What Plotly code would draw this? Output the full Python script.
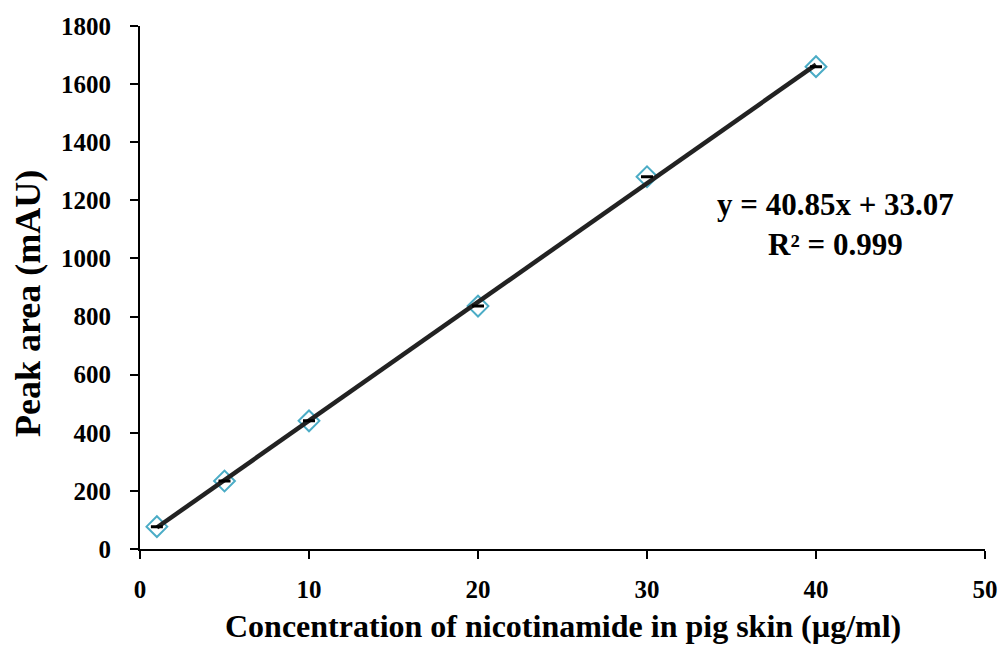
import plotly.graph_objects as go

conc = [1, 5, 10, 20, 30, 40]
peak_area = [77, 234, 441, 836, 1281, 1660]
slope = 40.85
intercept = 33.07
r2 = 0.999
x_ticks = [0, 10, 20, 30, 40, 50]
y_ticks = [0, 200, 400, 600, 800, 1000, 1200, 1400, 1600, 1800]

FONT = "Liberation Serif"
L, R, T, B = 140, 985, 26, 549

fig = go.Figure()
fig.add_trace(go.Scatter(
    x=conc, y=peak_area, mode="markers",
    marker=dict(symbol="diamond-open", size=16, color="#4BACC6", line=dict(width=2, color="#4BACC6")),
    showlegend=False,
))
trend_x = [conc[0], conc[-1]]
trend_y = [slope * v + intercept for v in trend_x]
fig.add_trace(go.Scatter(
    x=trend_x, y=trend_y, mode="lines",
    line=dict(color="#222222", width=4.5),
    showlegend=False,
))
fig.add_trace(go.Scatter(
    x=conc, y=peak_area, mode="markers",
    marker=dict(size=1, color="rgba(0,0,0,0)"),
    error_y=dict(type="data", array=[0] * len(conc), width=6, thickness=3, color="black"),
    showlegend=False, hoverinfo="skip",
))

fig.add_annotation(
    x=(835 - L) / (R - L), y=(B - 225) / (B - T), xref="paper", yref="paper",
    xanchor="center", yanchor="middle",
    text=f"<b>y = {slope:.2f}x + {intercept:.2f}</b><br><b>R² = {r2:.3f}</b>",
    showarrow=False, align="center",
    font=dict(family=FONT, size=31, color="black"),
)
fig.add_annotation(
    x=(28 - L) / (R - L), y=(B - 304) / (B - T), xref="paper", yref="paper",
    xanchor="center", yanchor="middle", textangle=-90,
    text="<b>Peak area (mAU)</b>", showarrow=False,
    font=dict(family=FONT, size=36, color="black"),
)
fig.add_annotation(
    x=(563 - L) / (R - L), y=(B - 626) / (B - T), xref="paper", yref="paper",
    xanchor="center", yanchor="middle",
    text="<b>Concentration of nicotinamide in pig skin (µg/ml)</b>", showarrow=False,
    font=dict(family=FONT, size=32, color="black"),
)

fig.update_layout(
    width=1000, height=646,
    margin=dict(l=L, r=1000 - R, t=T, b=646 - B),
    paper_bgcolor="white", plot_bgcolor="white",
    font=dict(family=FONT, size=25, color="black"),
    xaxis=dict(
        range=[0, 50], tickvals=x_ticks, showgrid=False, zeroline=False,
        showline=True, linecolor="black", linewidth=2, automargin=False,
        ticks="outside", ticklen=8, tickwidth=2, tickcolor="black",
        tickfont=dict(family=FONT, size=25, color="black", weight="bold"),
        ticklabelstandoff=9,
    ),
    yaxis=dict(
        range=[0, 1800], tickvals=y_ticks, showgrid=False, zeroline=False,
        showline=True, linecolor="black", linewidth=2, automargin=False,
        ticks="outside", ticklen=8, tickwidth=2, tickcolor="black",
        tickfont=dict(family=FONT, size=25, color="black", weight="bold"),
        ticklabelstandoff=14,
    ),
)

fig.write_html("out.html")
